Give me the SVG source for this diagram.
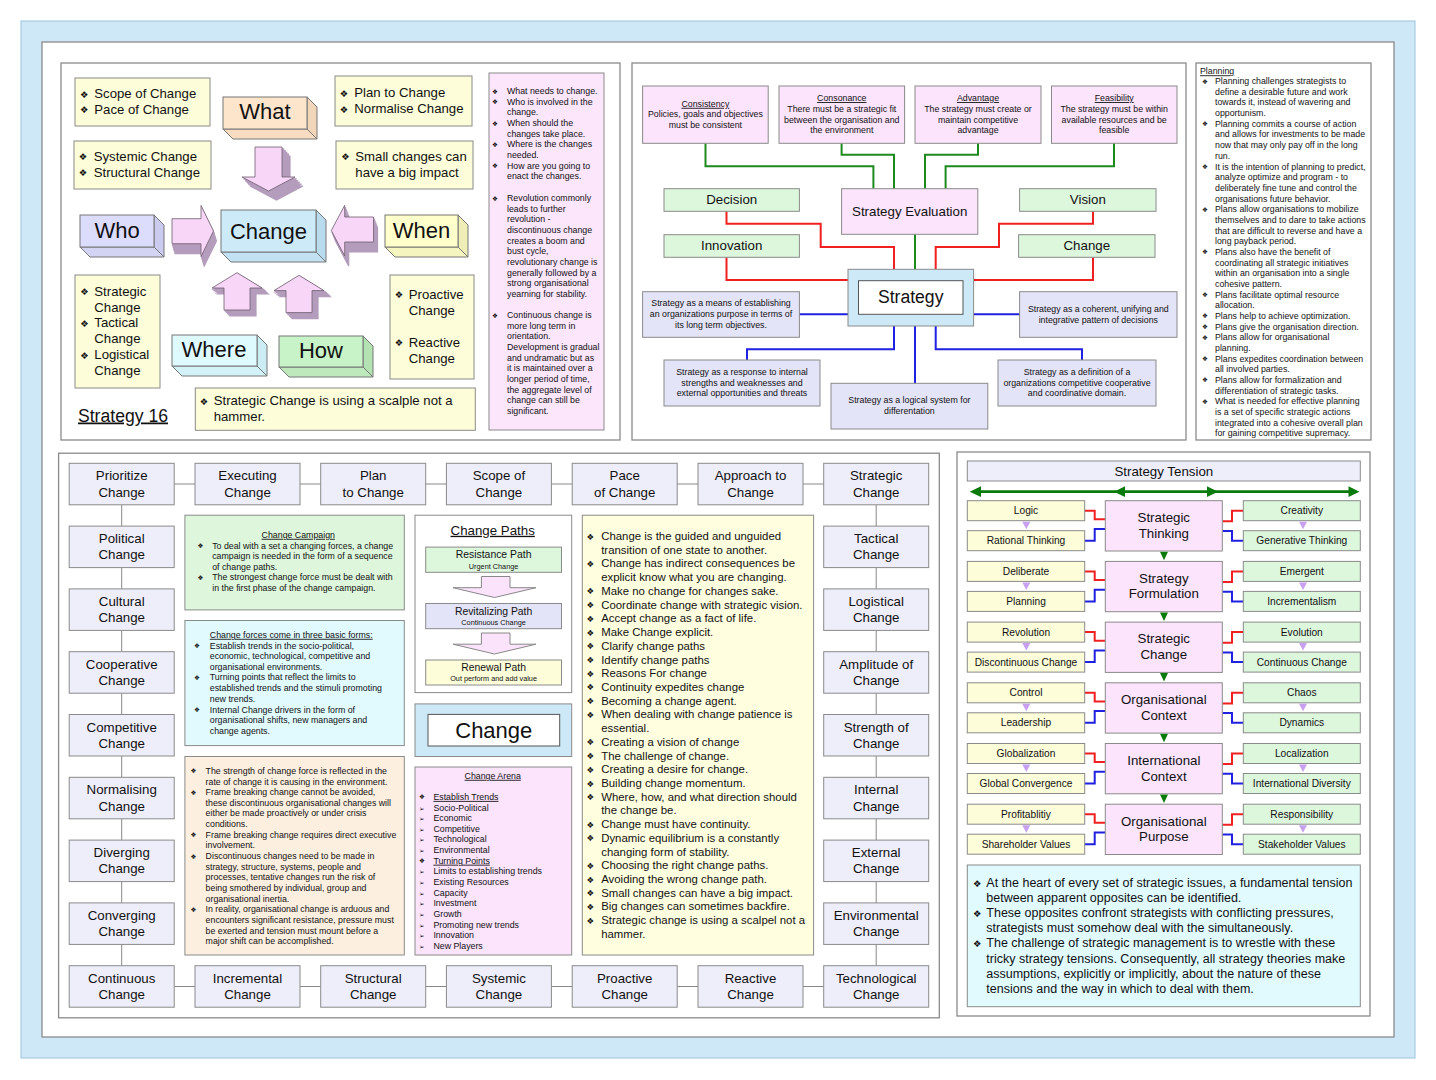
<svg xmlns="http://www.w3.org/2000/svg" width="1436" height="1080" viewBox="0 0 1436 1080">
<style>
text{font-family:"Liberation Sans","DejaVu Sans",Arial,sans-serif;fill:#111}
.c{text-anchor:middle}
.u{text-decoration:underline}
.s7{font-size:7.3px}
.s9{font-size:8.8px}
.s10{font-size:10.2px}
.s104{font-size:10.4px}
.s11{font-size:11.4px}
.s12{font-size:12.5px}
.s13{font-size:13.3px}
.s132{font-size:13.2px}
.s17{font-size:17.6px}
.s22{font-size:22px}
.b6{font-family:"DejaVu Sans",sans-serif;font-size:6.6px}
.b8{font-family:"DejaVu Sans",sans-serif;font-size:8.5px}
.b9{font-family:"DejaVu Sans",sans-serif;font-size:9.4px}
.pn{fill:#fff;stroke:#8a8a8a;stroke-width:1.3}
.bx{stroke:#8a8a8a;stroke-width:1}
.yl{fill:#fdfdd9}
.pk{fill:#fce4fc}
.gr{fill:#ddf7dd}
.lv{fill:#e4e4f8}
.gb{fill:#eeeefa}
.cy{fill:#e0fafe}
.pe{fill:#fdefe0}
.lb{fill:#cde9f8}
.ak{fill:#b49cbc;stroke:#b49cbc;stroke-width:1.2}
.af{fill:#f8d6f8;stroke:#6d5d6d;stroke-width:0.8}
.e3{stroke:#777;stroke-width:1}
.gl{fill:none;stroke:#1e8a1e;stroke-width:2}
.rl{fill:none;stroke:#f02020;stroke-width:2}
.bl{fill:none;stroke:#2020e0;stroke-width:2}
.kl{fill:none;stroke:#888;stroke-width:1}
</style>
<defs>
<path id="aD" d="M255,147H282V177H295L268.5,191L242,177H255Z"/>
<path id="aR" d="M172,218.7H201V205.5L213.5,231L201,256.5V243.7H172Z"/>
<path id="aL" d="M373.5,217H344.7V205.3L331.3,230.5L344.7,256V242H373.5Z"/>
<path id="aU1" d="M224,310V288H212L237,272.7L262,288H250V310Z"/>
<path id="aU2" d="M286,312.6V290.6H274L299,275.3L324,290.6H312V312.6Z"/>
</defs>

<g id="frame">
<rect x="21" y="21" width="1394" height="1037" fill="#cfe8f8" stroke="#9cc4dc" stroke-width="1"/>
<rect x="42" y="42" width="1352" height="995" fill="#fff" stroke="#8a8a8a" stroke-width="1.3"/>
<rect class="pn" x="61" y="63" width="559" height="377"/>
<rect class="pn" x="632" y="63" width="554" height="377"/>
<rect class="pn" x="1196" y="63" width="175" height="377"/>
<rect class="pn" x="58.6" y="453.2" width="880.7" height="564.6"/>
<rect class="pn" x="957" y="452" width="413" height="564"/>
</g>

<g id="connectors">
<path class="gl" d="M705.5,143.3V166.3H873.4V188.7"/>
<path class="gl" d="M841.6,143.3V154.7H894V188.7"/>
<path class="gl" d="M978,143.3V154.7H925V188.7"/>
<path class="gl" d="M1114,143.3V166.3H945.6V188.7"/>
<path class="gl" d="M915,234.3V269.3"/>
<path class="rl" d="M726.5,211.3V223.7H820.7V247H894V269.3"/>
<path class="rl" d="M726.5,257.3V280H848"/>
<path class="rl" d="M1093,211.3V223.7H999V247H935.7V269.3"/>
<path class="rl" d="M1093,257.3V280H973.6"/>
<path class="bl" d="M799.4,314.3H848"/>
<path class="bl" d="M973.6,314.3H1019.6"/>
<path class="bl" d="M894,326V349.3H747V360"/>
<path class="bl" d="M915,326V383.3"/>
<path class="bl" d="M935.7,326V349.3H1082V360"/>
<path class="kl" d="M174.2,484H195M300,484H320.7M425.7,484H446.4M551.4,484H572.2M677.2,484H698M803,484H823.7"/>
<path class="kl" d="M174.2,986.5H195M300,986.5H320.7M425.7,986.5H446.4M551.4,986.5H572.2M677.2,986.5H698M803,986.5H823.7"/>
<path class="kl" d="M121.7,504.8V526.1M121.7,567.6V588.9M121.7,630.4V651.7M121.7,693.2V714.5M121.7,756V777.3M121.7,818.8V840.1M121.7,881.6V902.9M121.7,944.4V965.7"/>
<path class="kl" d="M876.2,504.8V526.1M876.2,567.6V588.9M876.2,630.4V651.7M876.2,693.2V714.5M876.2,756V777.3M876.2,818.8V840.1M876.2,881.6V902.9M876.2,944.4V965.7"/>
<path d="M975,491.7H1354" stroke="#0a7a0a" stroke-width="2.7" fill="none"/>
<path d="M969.7,491.7L981,486.3V497.1Z M1114,491.7L1125,486.3V497.1Z M1218,491.7L1207,486.3V497.1Z M1359.5,491.7L1348.5,486.3V497.1Z" fill="#0a7a0a"/>
<g fill="none" stroke-width="2">
<path stroke="#f02020" d="M1084.7,510.7H1094.7V519.3H1105.3M1222.3,521.3H1232V510.7H1243.3"/>
<path stroke="#2020e0" d="M1084.7,540.7H1094.7V529H1105.3M1222.3,531H1232V540.7H1243.3"/>
<path stroke="#f02020" d="M1084.7,571.4H1094.7V580H1105.3M1222.3,582H1232V571.4H1243.3"/>
<path stroke="#2020e0" d="M1084.7,601.4H1094.7V589.7H1105.3M1222.3,591.7H1232V601.4H1243.3"/>
<path stroke="#f02020" d="M1084.7,632.1H1094.7V640.7H1105.3M1222.3,642.7H1232V632.1H1243.3"/>
<path stroke="#2020e0" d="M1084.7,662.1H1094.7V650.4H1105.3M1222.3,652.4H1232V662.1H1243.3"/>
<path stroke="#f02020" d="M1084.7,692.8H1094.7V701.4H1105.3M1222.3,703.4H1232V692.8H1243.3"/>
<path stroke="#2020e0" d="M1084.7,722.8H1094.7V711.1H1105.3M1222.3,713.1H1232V722.8H1243.3"/>
<path stroke="#f02020" d="M1084.7,753.5H1094.7V762.1H1105.3M1222.3,764.1H1232V753.5H1243.3"/>
<path stroke="#2020e0" d="M1084.7,783.5H1094.7V771.8H1105.3M1222.3,773.8H1232V783.5H1243.3"/>
<path stroke="#f02020" d="M1084.7,814.2H1094.7V822.8H1105.3M1222.3,824.8H1232V814.2H1243.3"/>
<path stroke="#2020e0" d="M1084.7,844.2H1094.7V832.5H1105.3M1222.3,834.5H1232V844.2H1243.3"/>
</g>
<path fill="#c8a0f0" d="M1022.3,521.7H1030.3L1026.3,529.2Z M1299,521.7H1307L1303,529.2Z M1022.3,582.4H1030.3L1026.3,589.9Z M1299,582.4H1307L1303,589.9Z M1022.3,643.1H1030.3L1026.3,650.6Z M1299,643.1H1307L1303,650.6Z M1022.3,703.8H1030.3L1026.3,711.3Z M1299,703.8H1307L1303,711.3Z M1022.3,764.5H1030.3L1026.3,772Z M1299,764.5H1307L1303,772Z M1022.3,825.2H1030.3L1026.3,832.7Z M1299,825.2H1307L1303,832.7Z"/>
<path fill="#0a7a0a" d="M1160,551.7H1168L1164,560.2Z M1160,612.4H1168L1164,620.9Z M1160,673.1H1168L1164,681.6Z M1160,733.8H1168L1164,742.3Z M1160,794.5H1168L1164,803Z"/>
</g>

<g id="tl-scope"><rect class="bx yl" x="75" y="78" width="135" height="48"/>
<text class="b9" x="80" y="97.5">❖</text><text class="s132" x="94.3" y="98.3">Scope of Change</text>
<text class="b9" x="80" y="113.2">❖</text><text class="s132" x="94.3" y="114">Pace of Change</text></g>
<g id="tl-plan"><rect class="bx yl" x="335" y="76" width="137" height="50"/>
<text class="b9" x="339.7" y="96.5">❖</text><text class="s132" x="354.3" y="97.3">Plan to Change</text>
<text class="b9" x="339.7" y="112.5">❖</text><text class="s132" x="354.3" y="113.3">Normalise Change</text></g>
<g id="tl-systemic"><rect class="bx yl" x="74" y="141" width="137" height="48"/>
<text class="b9" x="78.7" y="160.2">❖</text><text class="s132" x="93.7" y="161">Systemic Change</text>
<text class="b9" x="78.7" y="176.2">❖</text><text class="s132" x="93.7" y="177">Structural Change</text></g>
<g id="tl-small"><rect class="bx yl" x="336" y="141" width="137" height="48"/>
<text class="b9" x="341.3" y="160.2">❖</text><text class="s132" x="355.3" y="161">Small changes can</text>
<text class="s132" x="355.3" y="177">have a big impact</text></g>
<g id="tl-levels"><rect class="bx yl" x="75" y="275" width="85" height="113"/>
<text class="b9" x="80.3" y="295.2">❖</text><text class="s132" x="94.3" y="296">Strategic</text>
<text class="s132" x="94.3" y="311.7">Change</text>
<text class="b9" x="80.3" y="326.6">❖</text><text class="s132" x="94.3" y="327.4">Tactical</text>
<text class="s132" x="94.3" y="343.4">Change</text>
<text class="b9" x="80.3" y="358.6">❖</text><text class="s132" x="94.3" y="359.4">Logistical</text>
<text class="s132" x="94.3" y="375.4">Change</text></g>
<g id="tl-proactive"><rect class="bx yl" x="390" y="275" width="84" height="104"/>
<text class="b9" x="394.7" y="298.2">❖</text><text class="s132" x="408.7" y="299">Proactive</text>
<text class="s132" x="408.7" y="315">Change</text>
<text class="b9" x="394.7" y="346.2">❖</text><text class="s132" x="408.7" y="347">Reactive</text>
<text class="s132" x="408.7" y="363">Change</text></g>
<g id="tl-scalpel"><rect class="bx yl" x="195.3" y="388" width="280" height="42.3"/>
<text class="b9" x="199.7" y="404.6">❖</text><text class="s132" x="213.7" y="405.4">Strategic Change is using a scalple not a</text>
<text class="s132" x="213.7" y="420.7">hammer.</text></g>
<g id="tl-title"><text class="s17 u" x="78" y="421.5">Strategy 16</text></g>

<g id="tl-what">
<path class="e3" fill="#f2d6ba" d="M307,97L317,107V139L307,129Z"/>
<path class="e3" fill="#f7dcc2" d="M223,129H307L317,139H233Z"/>
<rect class="e3" fill="#fde5cc" x="223" y="97" width="84" height="32"/>
<text class="s22 c" x="265" y="119">What</text></g>
<g id="tl-who">
<path class="e3" fill="#cbcbef" d="M154,215L164,225V257L154,247Z"/>
<path class="e3" fill="#d3d3f4" d="M80,247H154L164,257H90Z"/>
<rect class="e3" fill="#dcdcfc" x="80" y="215" width="74" height="32"/>
<text class="s22 c" x="117" y="237.5">Who</text></g>
<g id="tl-change">
<path class="e3" fill="#b9dbee" d="M316,210L326,220V262L316,252Z"/>
<path class="e3" fill="#c2e1f3" d="M221,252H316L326,262H231Z"/>
<rect class="e3" fill="#cdeaf9" x="221" y="210" width="95" height="42"/>
<text class="s22 c" x="268.5" y="238.5">Change</text></g>
<g id="tl-when">
<path class="e3" fill="#eeeeb6" d="M458,215L468,225V257L458,247Z"/>
<path class="e3" fill="#f5f5bf" d="M385,247H458L468,257H395Z"/>
<rect class="e3" fill="#ffffcc" x="385" y="215" width="73" height="32"/>
<text class="s22 c" x="421.5" y="237.5">When</text></g>
<g id="tl-where">
<path class="e3" fill="#cbecf3" d="M257,335L267,345V376L257,366Z"/>
<path class="e3" fill="#d3f2f8" d="M172,366H257L267,376H182Z"/>
<rect class="e3" fill="#dffaff" x="172" y="335" width="85" height="31"/>
<text class="s22 c" x="214" y="356.5">Where</text></g>
<g id="tl-how">
<path class="e3" fill="#b3e2b3" d="M363,336L373,346V377L363,367Z"/>
<path class="e3" fill="#bde9bd" d="M279,367H363L373,377H289Z"/>
<rect class="e3" fill="#c8f2c8" x="279" y="336" width="84" height="31"/>
<text class="s22 c" x="321" y="358">How</text></g>

<g id="tl-arrows">
<use href="#aD" class="ak" transform="translate(1.6,1.8)"/><use href="#aD" class="ak" transform="translate(3.2,3.6)"/><use href="#aD" class="ak" transform="translate(4.8,5.4)"/><use href="#aD" class="ak" transform="translate(6.4,7.2)"/><use href="#aD" class="ak" transform="translate(8,9)"/><use href="#aD" class="af"/>
<use href="#aR" class="ak" transform="translate(0.6,2)"/><use href="#aR" class="ak" transform="translate(1.2,4)"/><use href="#aR" class="ak" transform="translate(1.8,6)"/><use href="#aR" class="ak" transform="translate(2.4,8)"/><use href="#aR" class="ak" transform="translate(3,10)"/><use href="#aR" class="af"/>
<use href="#aL" class="ak" transform="translate(0.8,2)"/><use href="#aL" class="ak" transform="translate(1.6,4)"/><use href="#aL" class="ak" transform="translate(2.4,6)"/><use href="#aL" class="ak" transform="translate(3.2,8)"/><use href="#aL" class="ak" transform="translate(4,10)"/><use href="#aL" class="af"/>
<use href="#aU1" class="ak" transform="translate(1.2,1.2)"/><use href="#aU1" class="ak" transform="translate(2.4,2.4)"/><use href="#aU1" class="ak" transform="translate(3.6,3.6)"/><use href="#aU1" class="ak" transform="translate(4.8,4.8)"/><use href="#aU1" class="ak" transform="translate(6,6)"/><use href="#aU1" class="af"/>
<use href="#aU2" class="ak" transform="translate(1.2,1.2)"/><use href="#aU2" class="ak" transform="translate(2.4,2.4)"/><use href="#aU2" class="ak" transform="translate(3.6,3.6)"/><use href="#aU2" class="ak" transform="translate(4.8,4.8)"/><use href="#aU2" class="ak" transform="translate(6,6)"/><use href="#aU2" class="af"/>
</g>

<g id="tl-notes"><rect class="bx" fill="#fce6fc" x="489" y="73" width="115" height="357"/>
<text class="b6" x="492" y="93.6">❖</text><text class="s9" x="507" y="94.1">What needs to change.</text>
<text class="b6" x="492" y="104.3">❖</text><text class="s9" x="507" y="104.8">Who is involved in the</text>
<text class="s9" x="507" y="115.4">change.</text>
<text class="b6" x="492" y="125.6">❖</text><text class="s9" x="507" y="126.1">When should the</text>
<text class="s9" x="507" y="136.8">changes take place.</text>
<text class="b6" x="492" y="146.9">❖</text><text class="s9" x="507" y="147.4">Where is the changes</text>
<text class="s9" x="507" y="158.1">needed.</text>
<text class="b6" x="492" y="168.3">❖</text><text class="s9" x="507" y="168.8">How are you going to</text>
<text class="s9" x="507" y="179.4">enact the changes.</text>
<text class="b6" x="492" y="200.6">❖</text><text class="s9" x="507" y="201.1">Revolution commonly</text>
<text class="s9" x="507" y="211.8">leads to further</text>
<text class="s9" x="507" y="222.4">revolution -</text>
<text class="s9" x="507" y="233.1">discontinuous change</text>
<text class="s9" x="507" y="243.8">creates a boom and</text>
<text class="s9" x="507" y="254.4">bust cycle,</text>
<text class="s9" x="507" y="265.1">revolutionary change is</text>
<text class="s9" x="507" y="275.8">generally followed by a</text>
<text class="s9" x="507" y="286.4">strong organisational</text>
<text class="s9" x="507" y="297.1">yearning for stability.</text>
<text class="b6" x="492" y="317.6">❖</text><text class="s9" x="507" y="318.1">Continuous change is</text>
<text class="s9" x="507" y="328.8">more long term in</text>
<text class="s9" x="507" y="339.4">orientation.</text>
<text class="s9" x="507" y="350.1">Development is gradual</text>
<text class="s9" x="507" y="360.8">and undramatic but as</text>
<text class="s9" x="507" y="371.4">it is maintained over a</text>
<text class="s9" x="507" y="382.1">longer period of time,</text>
<text class="s9" x="507" y="392.8">the aggregate level of</text>
<text class="s9" x="507" y="403.4">change can still be</text>
<text class="s9" x="507" y="414.1">significant.</text></g>

<g id="tm-consistency"><rect class="bx pk" x="642.6" y="86" width="125.6" height="57.3"/>
<text class="s9 c u" x="705.4" y="106.8">Consistency</text>
<text class="s9 c" x="705.4" y="117.4">Policies, goals and objectives</text>
<text class="s9 c" x="705.4" y="127.8">must be consistent</text></g>
<g id="tm-consonance"><rect class="bx pk" x="779" y="86" width="125.6" height="57.3"/>
<text class="s9 c u" x="841.8" y="101.1">Consonance</text>
<text class="s9 c" x="841.8" y="112.1">There must be a strategic fit</text>
<text class="s9 c" x="841.8" y="122.8">between the organisation and</text>
<text class="s9 c" x="841.8" y="133.4">the environment</text></g>
<g id="tm-advantage"><rect class="bx pk" x="915" y="86" width="126" height="57.3"/>
<text class="s9 c u" x="978" y="101.1">Advantage</text>
<text class="s9 c" x="978" y="112.1">The strategy must create or</text>
<text class="s9 c" x="978" y="122.8">maintain competitive</text>
<text class="s9 c" x="978" y="133.4">advantage</text></g>
<g id="tm-feasibility"><rect class="bx pk" x="1051.5" y="86" width="125.5" height="57.3"/>
<text class="s9 c u" x="1114.2" y="101.1">Feasibility</text>
<text class="s9 c" x="1114.2" y="112.1">The strategy must be within</text>
<text class="s9 c" x="1114.2" y="122.8">available resources and be</text>
<text class="s9 c" x="1114.2" y="133.4">feasible</text></g>
<g id="tm-evaluation"><rect class="bx pk" x="841.6" y="188.7" width="136.2" height="45.6"/>
<text class="s13 c" x="909.7" y="215.9">Strategy Evaluation</text></g>
<g id="tm-decision"><rect class="bx gr" x="664" y="188.7" width="135.4" height="22.6"/>
<text class="s13 c" x="731.7" y="204.3">Decision</text></g>
<g id="tm-innovation"><rect class="bx gr" x="664" y="234.7" width="135.4" height="22.6"/>
<text class="s13 c" x="731.7" y="249.9">Innovation</text></g>
<g id="tm-vision"><rect class="bx gr" x="1019.6" y="188.7" width="136.4" height="22.6"/>
<text class="s13 c" x="1087.8" y="204.3">Vision</text></g>
<g id="tm-change"><rect class="bx gr" x="1018.6" y="234.7" width="136.4" height="22.6"/>
<text class="s13 c" x="1086.8" y="249.9">Change</text></g>
<g id="tm-strategy"><rect class="bx lb" x="848" y="269.3" width="125.6" height="56.7"/>
<rect fill="#fff" stroke="#555" stroke-width="1" x="858.5" y="280.7" width="104.5" height="33.6"/>
<text class="s17 c" x="910.7" y="302.9">Strategy</text></g>
<g id="tm-purpose"><rect class="bx lv" x="642.6" y="291.7" width="156.8" height="45.6"/>
<text class="s9 c" x="721" y="306.4">Strategy as a means of establishing</text>
<text class="s9 c" x="721" y="317.4">an organizations purpose in terms of</text>
<text class="s9 c" x="721" y="328.1">its long term objectives.</text></g>
<g id="tm-pattern"><rect class="bx lv" x="1019.6" y="291.7" width="157.4" height="45.6"/>
<text class="s9 c" x="1098.3" y="312.4">Strategy as a coherent, unifying and</text>
<text class="s9 c" x="1098.3" y="323.1">integrative pattern of decisions</text></g>
<g id="tm-response"><rect class="bx lv" x="664" y="360" width="156" height="46"/>
<text class="s9 c" x="742" y="374.8">Strategy as a response to internal</text>
<text class="s9 c" x="742" y="385.8">strengths and weaknesses and</text>
<text class="s9 c" x="742" y="396.4">external opportunities and threats</text></g>
<g id="tm-logical"><rect class="bx lv" x="831" y="383.3" width="156.8" height="45.7"/>
<text class="s9 c" x="909.4" y="403.1">Strategy as a logical system for</text>
<text class="s9 c" x="909.4" y="414.1">differentation</text></g>
<g id="tm-domain"><rect class="bx lv" x="998" y="360" width="158" height="46"/>
<text class="s9 c" x="1077" y="374.8">Strategy as a definition of a</text>
<text class="s9 c" x="1077" y="385.8">organizations competitive cooperative</text>
<text class="s9 c" x="1077" y="396.4">and coordinative domain.</text></g>

<g id="planning">
<text class="s9 u" x="1200" y="74.3">Planning</text>
<g class="s9">
<text class="b6" x="1202" y="83.6">❖</text><text x="1215" y="84.1">Planning challenges strategists to</text>
<text x="1215" y="94.8">define a desirable future and work</text>
<text x="1215" y="105.4">towards it, instead of wavering and</text>
<text x="1215" y="116.1">opportunism.</text>
<text class="b6" x="1202" y="126.3">❖</text><text x="1215" y="126.8">Planning commits a course of action</text>
<text x="1215" y="137.4">and allows for investments to be made</text>
<text x="1215" y="148.1">now that may only pay off in the long</text>
<text x="1215" y="158.8">run.</text>
<text class="b6" x="1202" y="169">❖</text><text x="1215" y="169.5">It is the intention of planning to predict,</text>
<text x="1215" y="180.1">analyze optimize and program - to</text>
<text x="1215" y="190.8">deliberately fine tune and control the</text>
<text x="1215" y="201.5">organisations future behavior.</text>
<text class="b6" x="1202" y="211.6">❖</text><text x="1215" y="212.1">Plans allow organisations to mobilize</text>
<text x="1215" y="222.8">themselves and to dare to take actions</text>
<text x="1215" y="233.5">that are difficult to reverse and have a</text>
<text x="1215" y="244.2">long payback period.</text>
<text class="b6" x="1202" y="254.3">❖</text><text x="1215" y="254.8">Plans also have the benefit of</text>
<text x="1215" y="265.5">coordinating all strategic initiatives</text>
<text x="1215" y="276.2">within an organisation into a single</text>
<text x="1215" y="286.8">cohesive pattern.</text>
<text class="b6" x="1202" y="297">❖</text><text x="1215" y="297.5">Plans facilitate optimal resource</text>
<text x="1215" y="308.2">allocation.</text>
<text class="b6" x="1202" y="318.3">❖</text><text x="1215" y="318.8">Plans help to achieve optimization.</text>
<text class="b6" x="1202" y="329">❖</text><text x="1215" y="329.5">Plans give the organisation direction.</text>
<text class="b6" x="1202" y="339.7">❖</text><text x="1215" y="340.2">Plans allow for organisational</text>
<text x="1215" y="350.9">planning.</text>
<text class="b6" x="1202" y="361">❖</text><text x="1215" y="361.5">Plans expedites coordination between</text>
<text x="1215" y="372.2">all involved parties.</text>
<text class="b6" x="1202" y="382.4">❖</text><text x="1215" y="382.9">Plans allow for formalization and</text>
<text x="1215" y="393.5">differentiation of strategic tasks.</text>
<text class="b6" x="1202" y="403.7">❖</text><text x="1215" y="404.2">What is needed for effective planning</text>
<text x="1215" y="414.9">is a set of specific strategic actions</text>
<text x="1215" y="425.5">integrated into a cohesive overall plan</text>
<text x="1215" y="436.2">for gaining competitive supremacy.</text>
</g></g>

<g id="grid-top" class="s13">
<g id="g-prioritize"><rect class="bx gb" x="69.2" y="463.3" width="105" height="41.5"/><text class="c" x="121.7" y="480.4">Prioritize</text><text class="c" x="121.7" y="496.6">Change</text></g>
<g id="g-executing"><rect class="bx gb" x="195" y="463.3" width="105" height="41.5"/><text class="c" x="247.5" y="480.4">Executing</text><text class="c" x="247.5" y="496.6">Change</text></g>
<g id="g-plan"><rect class="bx gb" x="320.7" y="463.3" width="105" height="41.5"/><text class="c" x="373.2" y="480.4">Plan</text><text class="c" x="373.2" y="496.6">to Change</text></g>
<g id="g-scope"><rect class="bx gb" x="446.4" y="463.3" width="105" height="41.5"/><text class="c" x="498.9" y="480.4">Scope of</text><text class="c" x="498.9" y="496.6">Change</text></g>
<g id="g-pace"><rect class="bx gb" x="572.2" y="463.3" width="105" height="41.5"/><text class="c" x="624.7" y="480.4">Pace</text><text class="c" x="624.7" y="496.6">of Change</text></g>
<g id="g-approach"><rect class="bx gb" x="698" y="463.3" width="105" height="41.5"/><text class="c" x="750.5" y="480.4">Approach to</text><text class="c" x="750.5" y="496.6">Change</text></g>
<g id="g-strategic"><rect class="bx gb" x="823.7" y="463.3" width="105" height="41.5"/><text class="c" x="876.2" y="480.4">Strategic</text><text class="c" x="876.2" y="496.6">Change</text></g>
</g>
<g id="grid-left" class="s13">
<g id="g-political"><rect class="bx gb" x="69.2" y="526.1" width="105" height="41.5"/><text class="c" x="121.7" y="543.2">Political</text><text class="c" x="121.7" y="559.4">Change</text></g>
<g id="g-cultural"><rect class="bx gb" x="69.2" y="588.9" width="105" height="41.5"/><text class="c" x="121.7" y="606">Cultural</text><text class="c" x="121.7" y="622.2">Change</text></g>
<g id="g-cooperative"><rect class="bx gb" x="69.2" y="651.7" width="105" height="41.5"/><text class="c" x="121.7" y="668.8">Cooperative</text><text class="c" x="121.7" y="685">Change</text></g>
<g id="g-competitive"><rect class="bx gb" x="69.2" y="714.5" width="105" height="41.5"/><text class="c" x="121.7" y="731.6">Competitive</text><text class="c" x="121.7" y="747.8">Change</text></g>
<g id="g-normalising"><rect class="bx gb" x="69.2" y="777.3" width="105" height="41.5"/><text class="c" x="121.7" y="794.4">Normalising</text><text class="c" x="121.7" y="810.6">Change</text></g>
<g id="g-diverging"><rect class="bx gb" x="69.2" y="840.1" width="105" height="41.5"/><text class="c" x="121.7" y="857.2">Diverging</text><text class="c" x="121.7" y="873.4">Change</text></g>
<g id="g-converging"><rect class="bx gb" x="69.2" y="902.9" width="105" height="41.5"/><text class="c" x="121.7" y="920">Converging</text><text class="c" x="121.7" y="936.2">Change</text></g>
</g>
<g id="grid-bottom" class="s13">
<g id="g-continuous"><rect class="bx gb" x="69.2" y="965.7" width="105" height="41.5"/><text class="c" x="121.7" y="982.8">Continuous</text><text class="c" x="121.7" y="999">Change</text></g>
<g id="g-incremental"><rect class="bx gb" x="195" y="965.7" width="105" height="41.5"/><text class="c" x="247.5" y="982.8">Incremental</text><text class="c" x="247.5" y="999">Change</text></g>
<g id="g-structural"><rect class="bx gb" x="320.7" y="965.7" width="105" height="41.5"/><text class="c" x="373.2" y="982.8">Structural</text><text class="c" x="373.2" y="999">Change</text></g>
<g id="g-systemic"><rect class="bx gb" x="446.4" y="965.7" width="105" height="41.5"/><text class="c" x="498.9" y="982.8">Systemic</text><text class="c" x="498.9" y="999">Change</text></g>
<g id="g-proactive"><rect class="bx gb" x="572.2" y="965.7" width="105" height="41.5"/><text class="c" x="624.7" y="982.8">Proactive</text><text class="c" x="624.7" y="999">Change</text></g>
<g id="g-reactive"><rect class="bx gb" x="698" y="965.7" width="105" height="41.5"/><text class="c" x="750.5" y="982.8">Reactive</text><text class="c" x="750.5" y="999">Change</text></g>
<g id="g-technological"><rect class="bx gb" x="823.7" y="965.7" width="105" height="41.5"/><text class="c" x="876.2" y="982.8">Technological</text><text class="c" x="876.2" y="999">Change</text></g>
</g>
<g id="grid-right" class="s13">
<g id="g-tactical"><rect class="bx gb" x="823.7" y="526.1" width="105" height="41.5"/><text class="c" x="876.2" y="543.2">Tactical</text><text class="c" x="876.2" y="559.4">Change</text></g>
<g id="g-logistical"><rect class="bx gb" x="823.7" y="588.9" width="105" height="41.5"/><text class="c" x="876.2" y="606">Logistical</text><text class="c" x="876.2" y="622.2">Change</text></g>
<g id="g-amplitude"><rect class="bx gb" x="823.7" y="651.7" width="105" height="41.5"/><text class="c" x="876.2" y="668.8">Amplitude of</text><text class="c" x="876.2" y="685">Change</text></g>
<g id="g-strength"><rect class="bx gb" x="823.7" y="714.5" width="105" height="41.5"/><text class="c" x="876.2" y="731.6">Strength of</text><text class="c" x="876.2" y="747.8">Change</text></g>
<g id="g-internal"><rect class="bx gb" x="823.7" y="777.3" width="105" height="41.5"/><text class="c" x="876.2" y="794.4">Internal</text><text class="c" x="876.2" y="810.6">Change</text></g>
<g id="g-external"><rect class="bx gb" x="823.7" y="840.1" width="105" height="41.5"/><text class="c" x="876.2" y="857.2">External</text><text class="c" x="876.2" y="873.4">Change</text></g>
<g id="g-environmental"><rect class="bx gb" x="823.7" y="902.9" width="105" height="41.5"/><text class="c" x="876.2" y="920">Environmental</text><text class="c" x="876.2" y="936.2">Change</text></g>
</g>

<g id="campaign"><rect class="bx" fill="#def7dc" x="184.9" y="515.2" width="219.4" height="94.7"/>
<text class="s9 c u" x="298.3" y="537.8">Change Campaign</text>
<text class="b6" x="197.5" y="548.2">❖</text><text class="s9" x="212.2" y="548.7">To deal with a set a changing forces, a change</text>
<text class="s9" x="212.2" y="559.3">campaign is needed in the form of a sequence</text>
<text class="s9" x="212.2" y="569.8">of change paths.</text>
<text class="b6" x="197.5" y="579.8">❖</text><text class="s9" x="212.2" y="580.3">The strongest change force must be dealt with</text>
<text class="s9" x="212.2" y="591.2">in the first phase of the change campaign.</text></g>

<g id="forces"><rect class="bx cy" x="184.9" y="620.5" width="219.4" height="125.1"/>
<text class="s9 u" x="209.8" y="637.8">Change forces come in three basic forms:</text>
<text class="b6" x="194" y="648.2">❖</text><text class="s9" x="209.8" y="648.7">Establish trends in the socio-political,</text>
<text class="s9" x="209.8" y="659.3">economic, technological, competitive and</text>
<text class="s9" x="209.8" y="669.8">organisational environments.</text>
<text class="b6" x="194" y="679.8">❖</text><text class="s9" x="209.8" y="680.3">Turning points that reflect the limits to</text>
<text class="s9" x="209.8" y="691.2">established trends and the stimuli promoting</text>
<text class="s9" x="209.8" y="701.7">new trends.</text>
<text class="b6" x="194" y="712.1">❖</text><text class="s9" x="209.8" y="712.6">Internal Change drivers in the form of</text>
<text class="s9" x="209.8" y="723.1">organisational shifts, new managers and</text>
<text class="s9" x="209.8" y="733.7">change agents.</text></g>

<g id="strength"><rect class="bx pe" x="184.9" y="756.5" width="219.4" height="198.5"/>
<text class="b6" x="190.5" y="773.4">❖</text><text class="s9" x="205.6" y="773.9">The strength of change force is reflected in the</text>
<text class="s9" x="205.6" y="784.5">rate of change it is causing in the environment.</text>
<text class="b6" x="190.5" y="794.9">❖</text><text class="s9" x="205.6" y="795.4">Frame breaking change cannot be avoided,</text>
<text class="s9" x="205.6" y="805.9">these discontinuous organisational changes will</text>
<text class="s9" x="205.6" y="816.4">either be made proactively or under crisis</text>
<text class="s9" x="205.6" y="827.3">conditions.</text>
<text class="b6" x="190.5" y="837.3">❖</text><text class="s9" x="205.6" y="837.8">Frame breaking change requires direct executive</text>
<text class="s9" x="205.6" y="848.4">involvement.</text>
<text class="b6" x="190.5" y="858.8">❖</text><text class="s9" x="205.6" y="859.3">Discontinuous changes need to be made in</text>
<text class="s9" x="205.6" y="869.8">strategy, structure, systems, people and</text>
<text class="s9" x="205.6" y="880.3">processes, tentative changes run the risk of</text>
<text class="s9" x="205.6" y="891.2">being smothered by individual, group and</text>
<text class="s9" x="205.6" y="901.7">organisational inertia.</text>
<text class="b6" x="190.5" y="911.8">❖</text><text class="s9" x="205.6" y="912.3">In reality, organisational change is arduous and</text>
<text class="s9" x="205.6" y="923.1">encounters significant resistance, pressure must</text>
<text class="s9" x="205.6" y="933.7">be exerted and tension must mount before a</text>
<text class="s9" x="205.6" y="944.2">major shift can be accomplished.</text></g>

<g id="paths"><rect class="bx" fill="#fff" x="415" y="515.2" width="156.7" height="177.4"/>
<text class="s13 c u" x="492.7" y="534.8">Change Paths</text>
<g id="p-resistance"><rect class="bx gr" x="425.7" y="547.1" width="135.8" height="25.2"/>
<text class="s104 c" x="493.6" y="558.4">Resistance Path</text><text class="s7 c" x="493.6" y="568.5">Urgent Change</text></g>
<path fill="#fbe3fb" stroke="#888" stroke-width="1" d="M481.4,576.5H510V587.7H536L494.5,597.5L453,587.7H481.4Z"/>
<g id="p-revitalizing"><rect class="bx lv" x="425.7" y="603.5" width="135.8" height="25.2"/>
<text class="s104 c" x="493.6" y="614.7">Revitalizing Path</text><text class="s7 c" x="493.6" y="624.8">Continuous Change</text></g>
<path fill="#fbe3fb" stroke="#888" stroke-width="1" d="M481.4,633H510V644.2H536L494.5,654L453,644.2H481.4Z"/>
<g id="p-renewal"><rect class="bx yl" x="425.7" y="660" width="135.8" height="25"/>
<text class="s104 c" x="493.6" y="671.1">Renewal Path</text><text class="s7 c" x="493.6" y="681.2">Out perform and add value</text></g>
</g>

<g id="change-center"><rect class="bx lb" x="415" y="703.9" width="156.7" height="52.6"/>
<rect fill="#fff" stroke="#555" stroke-width="1" x="428" y="714.4" width="131.7" height="31.6"/>
<text class="s22 c" x="493.8" y="737.5">Change</text></g>

<g id="arena"><rect class="bx pk" x="415" y="767" width="156.7" height="188"/>
<text class="s9 c u" x="492.7" y="778.8">Change Arena</text>
<text class="b6" x="419" y="799.4">❖</text><text class="s9 u" x="433.4" y="799.9">Establish Trends</text>
<text class="b6" x="419" y="810.5">➢</text><text class="s9" x="433.4" y="810.5">Socio-Political</text>
<text class="b6" x="419" y="821.2">➢</text><text class="s9" x="433.4" y="821.2">Economic</text>
<text class="b6" x="419" y="831.8">➢</text><text class="s9" x="433.4" y="831.8">Competitive</text>
<text class="b6" x="419" y="842.4">➢</text><text class="s9" x="433.4" y="842.4">Technological</text>
<text class="b6" x="419" y="853.1">➢</text><text class="s9" x="433.4" y="853.1">Environmental</text>
<text class="b6" x="419" y="863.2">❖</text><text class="s9 u" x="433.4" y="863.7">Turning Points</text>
<text class="b6" x="419" y="874.3">➢</text><text class="s9" x="433.4" y="874.3">Limits to establishing trends</text>
<text class="b6" x="419" y="884.9">➢</text><text class="s9" x="433.4" y="884.9">Existing Resources</text>
<text class="b6" x="419" y="895.6">➢</text><text class="s9" x="433.4" y="895.6">Capacity</text>
<text class="b6" x="419" y="906.2">➢</text><text class="s9" x="433.4" y="906.2">Investment</text>
<text class="b6" x="419" y="916.8">➢</text><text class="s9" x="433.4" y="916.8">Growth</text>
<text class="b6" x="419" y="927.5">➢</text><text class="s9" x="433.4" y="927.5">Promoting new trends</text>
<text class="b6" x="419" y="938.1">➢</text><text class="s9" x="433.4" y="938.1">Innovation</text>
<text class="b6" x="419" y="948.7">➢</text><text class="s9" x="433.4" y="948.7">New Players</text></g>

<g id="principles"><rect class="bx" fill="#ffffe0" x="582.3" y="515.2" width="231.3" height="439.8"/>
<g class="s11">
<text class="b8" x="586.5" y="539.5">❖</text><text x="601.2" y="540">Change is the guided and unguided</text>
<text x="601.2" y="553.7">transition of one state to another.</text>
<text class="b8" x="586.5" y="566.9">❖</text><text x="601.2" y="567.4">Change has indirect consequences be</text>
<text x="601.2" y="581.2">explicit know what you are changing.</text>
<text class="b8" x="586.5" y="594.4">❖</text><text x="601.2" y="594.9">Make no change for changes sake.</text>
<text class="b8" x="586.5" y="608.1">❖</text><text x="601.2" y="608.6">Coordinate change with strategic vision.</text>
<text class="b8" x="586.5" y="621.8">❖</text><text x="601.2" y="622.3">Accept change as a fact of life.</text>
<text class="b8" x="586.5" y="635.5">❖</text><text x="601.2" y="636">Make Change explicit.</text>
<text class="b8" x="586.5" y="649.3">❖</text><text x="601.2" y="649.8">Clarify change paths</text>
<text class="b8" x="586.5" y="663">❖</text><text x="601.2" y="663.5">Identify change paths</text>
<text class="b8" x="586.5" y="676.7">❖</text><text x="601.2" y="677.2">Reasons For change</text>
<text class="b8" x="586.5" y="690.4">❖</text><text x="601.2" y="690.9">Continuity expedites change</text>
<text class="b8" x="586.5" y="704.1">❖</text><text x="601.2" y="704.6">Becoming a change agent.</text>
<text class="b8" x="586.5" y="717.9">❖</text><text x="601.2" y="718.4">When dealing with change patience is</text>
<text x="601.2" y="732.1">essential.</text>
<text class="b8" x="586.5" y="745.3">❖</text><text x="601.2" y="745.8">Creating a vision of change</text>
<text class="b8" x="586.5" y="759">❖</text><text x="601.2" y="759.5">The challenge of change.</text>
<text class="b8" x="586.5" y="772.7">❖</text><text x="601.2" y="773.2">Creating a desire for change.</text>
<text class="b8" x="586.5" y="786.5">❖</text><text x="601.2" y="787">Building change momentum.</text>
<text class="b8" x="586.5" y="800.2">❖</text><text x="601.2" y="800.7">Where, how, and what direction should</text>
<text x="601.2" y="814.4">the change be.</text>
<text class="b8" x="586.5" y="827.6">❖</text><text x="601.2" y="828.1">Change must have continuity.</text>
<text class="b8" x="586.5" y="841.3">❖</text><text x="601.2" y="841.8">Dynamic equilibrium is a constantly</text>
<text x="601.2" y="855.6">changing form of stability.</text>
<text class="b8" x="586.5" y="868.8">❖</text><text x="601.2" y="869.3">Choosing the right change paths.</text>
<text class="b8" x="586.5" y="882.5">❖</text><text x="601.2" y="883">Avoiding the wrong change path.</text>
<text class="b8" x="586.5" y="896.2">❖</text><text x="601.2" y="896.7">Small changes can have a big impact.</text>
<text class="b8" x="586.5" y="909.9">❖</text><text x="601.2" y="910.4">Big changes can sometimes backfire.</text>
<text class="b8" x="586.5" y="923.7">❖</text><text x="601.2" y="924.2">Strategic change is using a scalpel not a</text>
<text x="601.2" y="937.9">hammer.</text>
</g></g>

<g id="tension-title"><rect class="bx gb" x="967.3" y="461" width="393" height="20"/>
<text class="s13 c" x="1163.8" y="475.5">Strategy Tension</text></g>
<g class="s10">
<g id="t-logic"><rect class="bx yl" x="967.3" y="500.7" width="117.4" height="20"/><text class="c" x="1026" y="514.3">Logic</text></g>
<g id="t-rational"><rect class="bx yl" x="967.3" y="530.7" width="117.4" height="20"/><text class="c" x="1026" y="544.3">Rational Thinking</text></g>
<g id="t-deliberate"><rect class="bx yl" x="967.3" y="561.4" width="117.4" height="20"/><text class="c" x="1026" y="575">Deliberate</text></g>
<g id="t-planning"><rect class="bx yl" x="967.3" y="591.4" width="117.4" height="20"/><text class="c" x="1026" y="605">Planning</text></g>
<g id="t-revolution"><rect class="bx yl" x="967.3" y="622.1" width="117.4" height="20"/><text class="c" x="1026" y="635.7">Revolution</text></g>
<g id="t-discontinuous"><rect class="bx yl" x="967.3" y="652.1" width="117.4" height="20"/><text class="c" x="1026" y="665.7">Discontinuous Change</text></g>
<g id="t-control"><rect class="bx yl" x="967.3" y="682.8" width="117.4" height="20"/><text class="c" x="1026" y="696.4">Control</text></g>
<g id="t-leadership"><rect class="bx yl" x="967.3" y="712.8" width="117.4" height="20"/><text class="c" x="1026" y="726.4">Leadership</text></g>
<g id="t-globalization"><rect class="bx yl" x="967.3" y="743.5" width="117.4" height="20"/><text class="c" x="1026" y="757.1">Globalization</text></g>
<g id="t-convergence"><rect class="bx yl" x="967.3" y="773.5" width="117.4" height="20"/><text class="c" x="1026" y="787.1">Global Convergence</text></g>
<g id="t-profitability"><rect class="bx yl" x="967.3" y="804.2" width="117.4" height="20"/><text class="c" x="1026" y="817.8">Profitablitiy</text></g>
<g id="t-shareholder"><rect class="bx yl" x="967.3" y="834.2" width="117.4" height="20"/><text class="c" x="1026" y="847.8">Shareholder Values</text></g>
<g id="t-creativity"><rect class="bx gr" x="1243.3" y="500.7" width="117" height="20"/><text class="c" x="1301.8" y="514.3">Creativity</text></g>
<g id="t-generative"><rect class="bx gr" x="1243.3" y="530.7" width="117" height="20"/><text class="c" x="1301.8" y="544.3">Generative Thinking</text></g>
<g id="t-emergent"><rect class="bx gr" x="1243.3" y="561.4" width="117" height="20"/><text class="c" x="1301.8" y="575">Emergent</text></g>
<g id="t-incrementalism"><rect class="bx gr" x="1243.3" y="591.4" width="117" height="20"/><text class="c" x="1301.8" y="605">Incrementalism</text></g>
<g id="t-evolution"><rect class="bx gr" x="1243.3" y="622.1" width="117" height="20"/><text class="c" x="1301.8" y="635.7">Evolution</text></g>
<g id="t-continuous"><rect class="bx gr" x="1243.3" y="652.1" width="117" height="20"/><text class="c" x="1301.8" y="665.7">Continuous Change</text></g>
<g id="t-chaos"><rect class="bx gr" x="1243.3" y="682.8" width="117" height="20"/><text class="c" x="1301.8" y="696.4">Chaos</text></g>
<g id="t-dynamics"><rect class="bx gr" x="1243.3" y="712.8" width="117" height="20"/><text class="c" x="1301.8" y="726.4">Dynamics</text></g>
<g id="t-localization"><rect class="bx gr" x="1243.3" y="743.5" width="117" height="20"/><text class="c" x="1301.8" y="757.1">Localization</text></g>
<g id="t-diversity"><rect class="bx gr" x="1243.3" y="773.5" width="117" height="20"/><text class="c" x="1301.8" y="787.1">International Diversity</text></g>
<g id="t-responsibility"><rect class="bx gr" x="1243.3" y="804.2" width="117" height="20"/><text class="c" x="1301.8" y="817.8">Responsibility</text></g>
<g id="t-stakeholder"><rect class="bx gr" x="1243.3" y="834.2" width="117" height="20"/><text class="c" x="1301.8" y="847.8">Stakeholder Values</text></g>
</g>
<g class="s13">
<g id="t-thinking"><rect class="bx pk" x="1105.3" y="500.7" width="117" height="50.3"/><text class="c" x="1163.8" y="522">Strategic</text><text class="c" x="1163.8" y="537.7">Thinking</text></g>
<g id="t-formulation"><rect class="bx pk" x="1105.3" y="561.4" width="117" height="50.3"/><text class="c" x="1163.8" y="582.7">Strategy</text><text class="c" x="1163.8" y="598.4">Formulation</text></g>
<g id="t-change"><rect class="bx pk" x="1105.3" y="622.1" width="117" height="50.3"/><text class="c" x="1163.8" y="643.4">Strategic</text><text class="c" x="1163.8" y="659.1">Change</text></g>
<g id="t-orgcontext"><rect class="bx pk" x="1105.3" y="682.8" width="117" height="50.3"/><text class="c" x="1163.8" y="704.1">Organisational</text><text class="c" x="1163.8" y="719.8">Context</text></g>
<g id="t-intcontext"><rect class="bx pk" x="1105.3" y="743.5" width="117" height="50.3"/><text class="c" x="1163.8" y="764.8">International</text><text class="c" x="1163.8" y="780.5">Context</text></g>
<g id="t-purpose"><rect class="bx pk" x="1105.3" y="804.2" width="117" height="50.3"/><text class="c" x="1163.8" y="825.5">Organisational</text><text class="c" x="1163.8" y="841.2">Purpose</text></g>
</g>
<g id="tension-notes"><rect class="bx cy" x="967.3" y="865" width="393" height="141.7"/>
<g class="s12">
<text class="b9" x="973" y="886.5">❖</text><text x="986.3" y="887">At the heart of every set of strategic issues, a fundamental tension</text>
<text x="986.3" y="902.1">between apparent opposites can be identified.</text>
<text class="b9" x="973" y="916.7">❖</text><text x="986.3" y="917.2">These opposites confront strategists with conflicting pressures,</text>
<text x="986.3" y="932.3">strategists must somehow deal with the simultaneously.</text>
<text class="b9" x="973" y="946.9">❖</text><text x="986.3" y="947.4">The challenge of strategic management is to wrestle with these</text>
<text x="986.3" y="962.5">tricky strategy tensions. Consequently, all strategy theories make</text>
<text x="986.3" y="977.6">assumptions, explicitly or implicitly, about the nature of these</text>
<text x="986.3" y="992.7">tensions and the way in which to deal with them.</text>
</g></g>
</svg>
